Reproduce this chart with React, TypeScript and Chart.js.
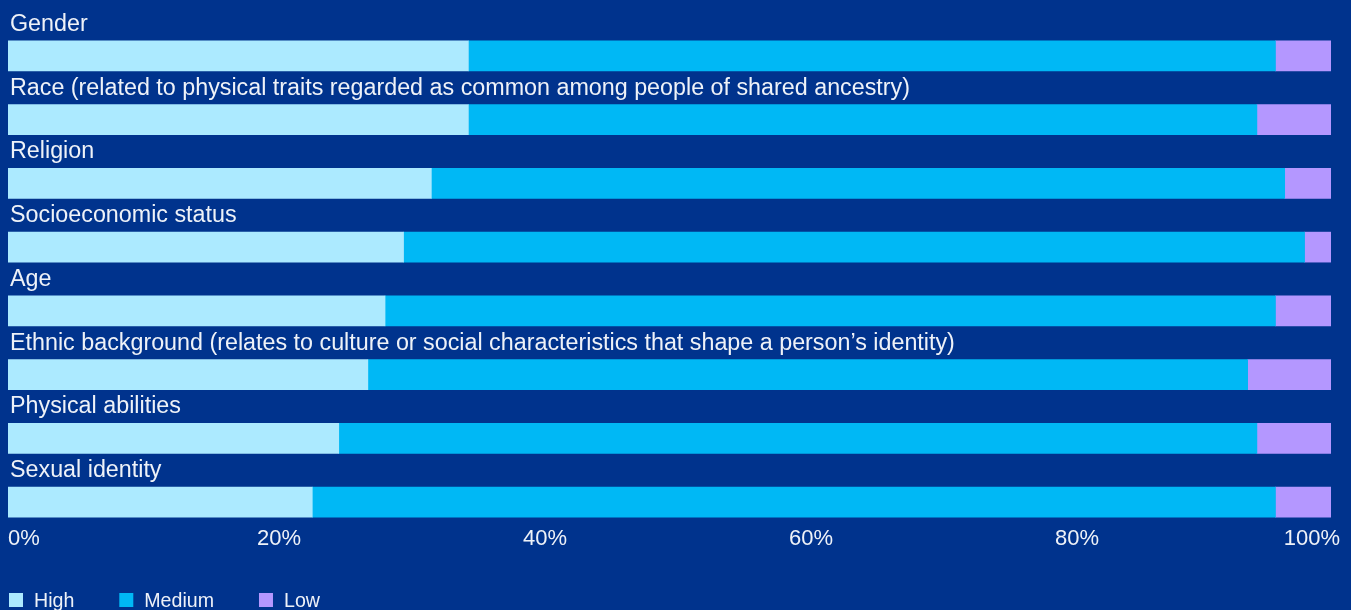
import React, { useEffect, useRef } from "react";
import { Chart, registerables } from "chart.js";

Chart.register(...registerables);

const categories = [
  "Gender",
  "Race (related to physical traits regarded as common among people of shared ancestry)",
  "Religion",
  "Socioeconomic status",
  "Age",
  "Ethnic background (relates to culture or social characteristics that shape a person\u2019s identity)",
  "Physical abilities",
  "Sexual identity",
];

const highValues = [34.8, 34.8, 32.0, 29.9, 28.5, 27.2, 25.0, 23.0];
const mediumValues = [61.0, 59.6, 64.5, 68.1, 67.3, 66.5, 69.4, 72.8];
const lowValues = [4.2, 5.6, 3.5, 2.0, 4.2, 6.3, 5.6, 4.2];

const seriesNames = ["High", "Medium", "Low"];
const seriesColors = ["#ACEAFF", "#00B8F5", "#B497FF"];
const tickValues = [0, 20, 40, 60, 80, 100];
const tickLabels = ["0%", "20%", "40%", "60%", "80%", "100%"];

const BG = "#00338D";
const TEXT = "#EEF2F8";
const FONT = "'Liberation Sans', Arial, sans-serif";

const overlayPlugin = {
  id: "overlay",
  beforeDraw(chart: any) {
    const ctx = chart.ctx;
    ctx.save();
    ctx.fillStyle = BG;
    ctx.fillRect(0, 0, chart.width, chart.height);
    ctx.restore();
  },
  afterDraw(chart: any) {
    const ctx = chart.ctx;
    const xs = chart.scales.x;
    const ys = chart.scales.y;
    const area = chart.chartArea;
    ctx.save();
    ctx.fillStyle = TEXT;
    ctx.textBaseline = "alphabetic";
    // category labels above bars
    ctx.font = `23.3px ${FONT}`;
    ctx.textAlign = "left";
    categories.forEach((c, i) => {
      const yc = ys.getPixelForValue(i);
      ctx.fillText(c, area.left + 2, yc - 15 - 10);
    });
    // x tick labels
    ctx.font = `22px ${FONT}`;
    const tickBase = area.bottom + 11;
    tickValues.forEach((v, i) => {
      const px = xs.getPixelForValue(v);
      if (i === 0) {
        ctx.textAlign = "left";
        ctx.fillText(tickLabels[i], px, tickBase);
      } else if (i === tickValues.length - 1) {
        ctx.textAlign = "right";
        ctx.fillText(tickLabels[i], px + 9, tickBase);
      } else {
        ctx.textAlign = "center";
        ctx.fillText(tickLabels[i], px + 5 + v * 0.07, tickBase);
      }
    });
    // legend
    ctx.font = `19.6px ${FONT}`;
    ctx.textAlign = "left";
    const boxTop = area.bottom + 59;
    let lx = area.left + 1;
    chart.data.datasets.forEach((ds: any) => {
      ctx.fillStyle = ds.backgroundColor;
      ctx.fillRect(lx, boxTop, 14, 14);
      ctx.fillStyle = TEXT;
      ctx.fillText(ds.label, lx + 25, boxTop + 14);
      const w = ctx.measureText(ds.label).width;
      lx += 25 + w + 45;
    });
    ctx.restore();
  },
};

export default function App() {
  const ref = useRef<HTMLCanvasElement | null>(null);
  useEffect(() => {
    if (!ref.current) return;
    const valueSets = [highValues, mediumValues, lowValues];
    const chart = new Chart(ref.current, {
      type: "bar",
      data: {
        labels: categories,
        datasets: seriesNames.map((name, i) => ({
          label: name,
          data: valueSets[i],
          backgroundColor: seriesColors[i],
          borderWidth: 0,
          barThickness: 30,
        })),
      },
      options: {
        indexAxis: "y",
        responsive: false,
        animation: false,
        layout: { padding: { left: 8, right: 20, top: 24, bottom: 76 } },
        scales: {
          x: { type: "linear", min: 0, max: 100, stacked: true, display: false },
          y: { type: "category", stacked: true, display: false },
        },
        plugins: {
          legend: { display: false },
          tooltip: { enabled: false },
        },
      },
      plugins: [overlayPlugin],
    });
    return () => chart.destroy();
  }, []);
  return (
    <div style={{ position: "fixed", left: 0, top: 0, width: 1351, height: 610, background: BG }}>
      <canvas ref={ref} width={1351} height={610} style={{ width: 1351, height: 610, display: "block" }} />
    </div>
  );
}
